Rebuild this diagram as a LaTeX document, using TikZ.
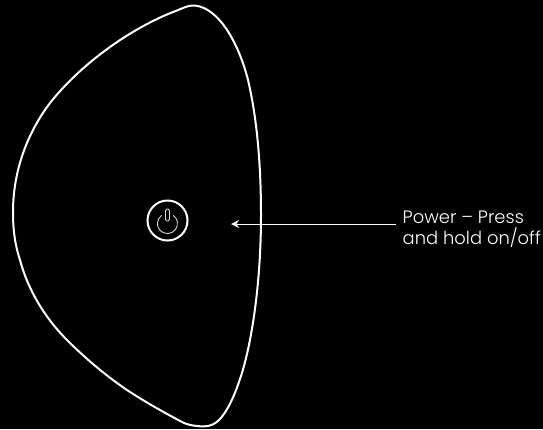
\documentclass[tikz,border=0pt]{standalone}
\usepackage{fontspec}
\setmainfont{Poppins}[UprightFont=* Light]
\usetikzlibrary{arrows.meta}
\tikzset{
  outline/.style={draw=white,line width=2pt,line join=round},
  ringline/.style={draw=white,line width=2pt},
  glyphline/.style={draw=white!85!black,line width=0.9pt},
  pointer/.style={draw=white,line width=1pt,-{Stealth[length=8pt,width=8pt]}},
  label/.style={text=white,font=\fontsize{17.9}{21}\selectfont,align=left,inner sep=0pt,anchor=north west}
}
\begin{document}
\begin{tikzpicture}[x=1pt,y=-1pt]
\useasboundingbox[fill=black] (0,0) rectangle (543,429);
\draw[outline] (193,5.5)
  .. controls (203,5.5) and (213,12) .. (222,23)
  .. controls (234,38) and (243,60) .. (248,80)
  .. controls (257,118) and (261,165) .. (261,215)
  .. controls (261,290) and (250,350) .. (240,379)
  .. controls (234,397) and (227,412) .. (219,420)
  .. controls (212,427) and (204,427) .. (197,426)
  .. controls (192,425.5) and (187,424.5) .. (183,422.5)
  .. controls (165,413) and (146,402.5) .. (127,390)
  .. controls (105,375) and (85,358) .. (67,340)
  .. controls (45,318) and (28,290) .. (20,260)
  .. controls (15,245) and (13,230) .. (13,212)
  .. controls (13,170) and (28,132) .. (50,103)
  .. controls (80,65) and (130,28) .. (177,10.5)
  .. controls (183,8) and (188,5.5) .. (193,5.5) -- cycle;
\node[circle,ringline,minimum size=40pt,inner sep=0pt] (ring) at (167.5,220.5) {};
\draw[glyphline] (173.2,215.3) arc[start angle=55,end angle=-235,radius=10pt];
\draw[glyphline,fill=black,rounded corners=1.5pt] (165.5,209) rectangle (169.5,221);
\node[label] (txt) at (402.5,211) {Power – Press\\and hold on/off};
\coordinate (tail) at (396,224);
\coordinate (head) at (231,224);
\draw[pointer] (tail) -- (head);
\end{tikzpicture}
\end{document}
